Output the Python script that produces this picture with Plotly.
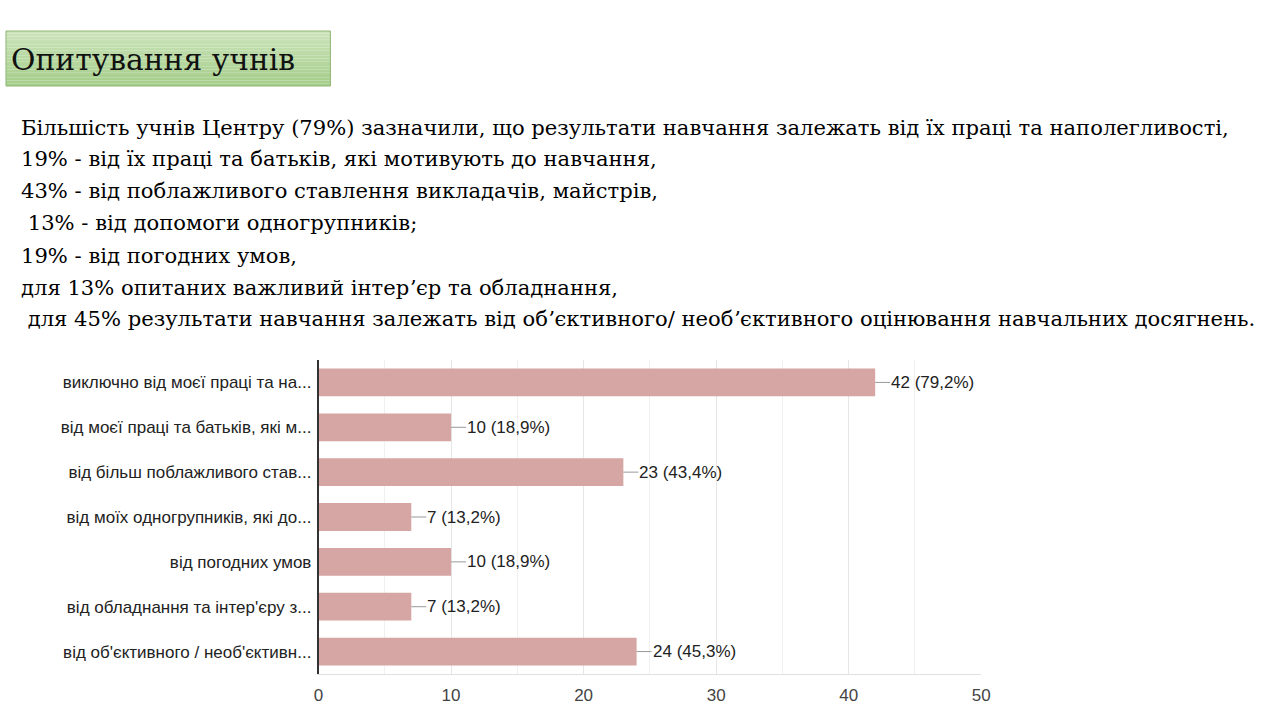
import plotly.graph_objects as go

categories = [
    "виключно від моєї праці та на...",
    "від моєї праці та батьків, які м...",
    "від більш поблажливого став...",
    "від моїх одногрупників, які до...",
    "від погодних умов",
    "від обладнання та інтер'єру з...",
    "від об'єктивного / необ'єктивн...",
]
counts = [42, 10, 23, 7, 10, 7, 24]
percents = ["79,2%", "18,9%", "43,4%", "13,2%", "18,9%", "13,2%", "45,3%"]
x_ticks = [0, 10, 20, 30, 40, 50]

title_text = "Опитування учнів"
paragraph_lines = [
    "Більшість учнів Центру (79%) зазначили, що результати навчання залежать від їх праці та наполегливості,",
    "19% - від їх праці та батьків, які мотивують до навчання,",
    "43% - від поблажливого ставлення викладачів, майстрів,",
    "\u00a013% - від допомоги одногрупників;",
    "19% - від погодних умов,",
    "для 13% опитаних важливий інтерʼєр та обладнання,",
    "\u00a0для 45% результати навчання залежать від обʼєктивного/ необʼєктивного оцінювання навчальних досягнень.",
]

W, H = 1280, 720
SERIF = "DejaVu Serif"
SANS = "Liberation Sans"

fig = go.Figure()
fig.add_trace(go.Bar(
    x=counts, y=categories, orientation="h",
    marker=dict(color="#d5a6a4", line=dict(width=0)),
    width=0.62, hoverinfo="skip",
))

annotations = []
for c, cat, p in zip(counts, categories, percents):
    annotations.append(dict(
        x=c, y=cat, xref="x", yref="y", text=f"{c} ({p})",
        showarrow=True, arrowhead=0, arrowwidth=1, arrowcolor="#999999",
        ax=15, ay=0, xanchor="left", yanchor="middle", borderpad=0,
        font=dict(family=SANS, size=17, color="#222222"),
    ))

annotations.append(dict(
    x=4 / W, y=1 - 59 / H, xref="paper", yref="paper", text=title_text,
    showarrow=False, xanchor="left", yanchor="middle",
    font=dict(family=SERIF, size=29.8, color="#111111"),
))
line_y = [127, 158, 191, 222, 255, 287, 318]
for ly, t in zip(line_y, paragraph_lines):
    annotations.append(dict(
        x=14 / W, y=1 - ly / H, xref="paper", yref="paper", text=t,
        showarrow=False, xanchor="left", yanchor="middle",
        font=dict(family=SERIF, size=21.1, color="#000000"),
    ))

shapes = []
top, bot, left, right = 31, 86, 1, 329
n = 20
c0 = (0xcb, 0xe4, 0xba)
c1 = (0xa5, 0xce, 0x8b)
for i in range(n):
    f = i / (n - 1)
    col = tuple(int(c0[k] + (c1[k] - c0[k]) * f) for k in range(3))
    y0 = top + (bot - top) * i / n
    y1 = top + (bot - top) * (i + 1) / n
    shapes.append(dict(type="rect", xref="paper", yref="paper",
                       x0=left / W, x1=right / W, y0=1 - y1 / H, y1=1 - y0 / H,
                       fillcolor="rgb(%d,%d,%d)" % col, line=dict(width=0), layer="below"))
shapes.append(dict(type="rect", xref="paper", yref="paper",
                   x0=left / W, x1=right / W, y0=1 - bot / H, y1=1 - top / H,
                   fillcolor="rgba(0,0,0,0)", line=dict(width=1, color="#8db573")))

fig.update_layout(
    width=W, height=H, margin=dict(l=0, r=0, t=0, b=0),
    paper_bgcolor="white", plot_bgcolor="white", showlegend=False,
    annotations=annotations, shapes=shapes, bargap=0.38,
    xaxis=dict(domain=[317 / W, 987 / W], range=[0, 50], tickvals=x_ticks,
               showgrid=True, gridcolor="#e6e6e6", gridwidth=1,
               minor=dict(dtick=5, showgrid=True, gridcolor="#f0f0f0"),
               showline=True, linecolor="#e0e0e0", linewidth=1, zeroline=False,
               tickfont=dict(family=SANS, size=17, color="#444444"),
               ticks="", ticklabelstandoff=6),
    yaxis=dict(domain=[1 - 674 / H, 1 - 360 / H], autorange="reversed",
               showline=True, linecolor="#333333", linewidth=1.5, showgrid=False,
               tickfont=dict(family=SANS, size=17, color="#222222"),
               ticks="", ticklabelstandoff=2),
)

fig.write_html("out.html")
